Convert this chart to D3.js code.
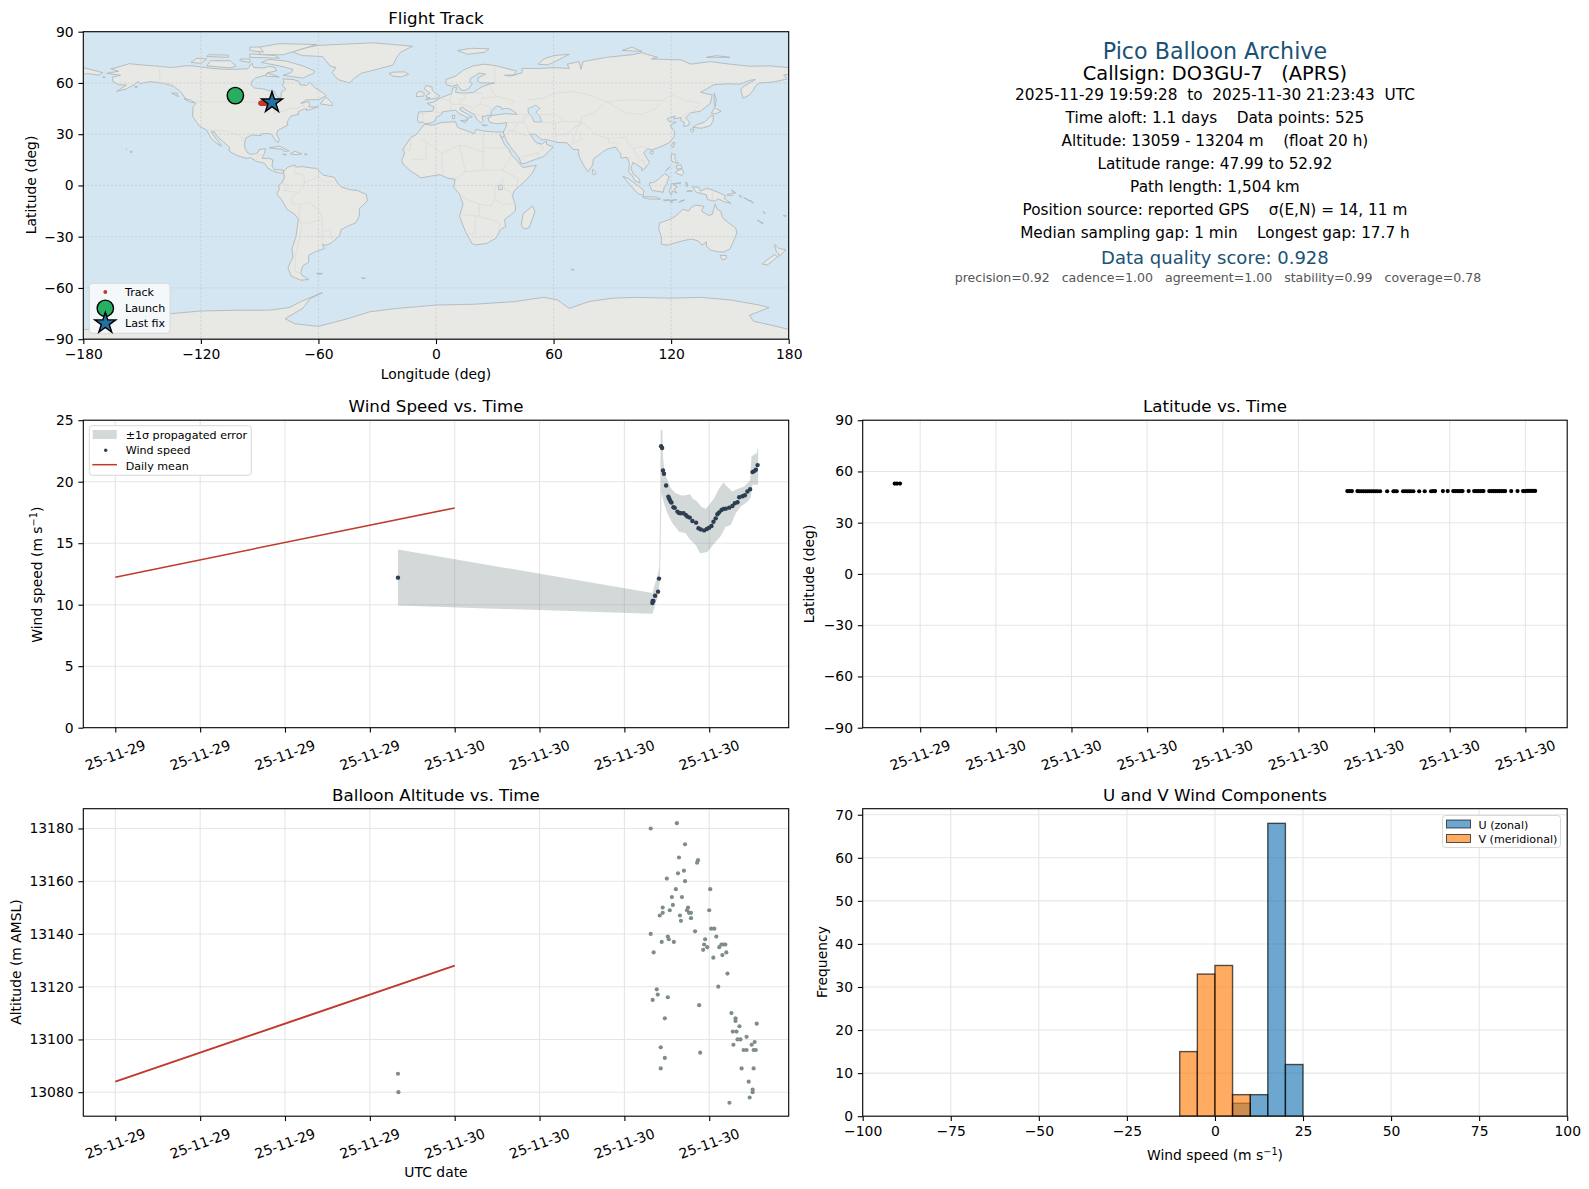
<!DOCTYPE html>
<html>
<head>
<meta charset="utf-8">
<title>Pico Balloon Archive</title>
<script src="https://cdnjs.cloudflare.com/ajax/libs/d3/7.8.5/d3.min.js"></script>
<style>
  body { margin: 0; background: #fff; }
  text { font-family: "DejaVu Sans", sans-serif; fill: #000; white-space: pre; }
</style>
</head>
<body>
<div id="chart"></div>
<script>
// ---- data ----
// all hours below are counted from 2025-11-29 00:00 UTC

// coastlines, [lon, lat]
var landPolygons = [
  // north america
  [[-168,65.6],[-164,66.5],[-162,66.8],[-166,68.4],[-163,69],[-156.5,71.3],[-150,70.5],[-141,69.7],[-135,69],[-128,70],[-124,70],[-118,69],[-114,68.5],[-108,68],[-102,68],[-96,68.3],[-94,71.5],[-93,69],[-88,68.8],[-85,69.7],[-82,69],[-81.5,67],[-86,66],[-87,64.5],[-92,63],[-94,61],[-94.5,59],[-92.5,57],[-88,56.5],[-85,55.3],[-82.3,55],[-82,53],[-80,51.3],[-79,51.6],[-79,54.5],[-76.7,56.5],[-78.5,58.7],[-77.5,60],[-78,62.4],[-73,62],[-70,61],[-69.5,59],[-66,58.5],[-64.5,60.3],[-61.5,57],[-58,54.5],[-56,52.5],[-60,50.2],[-66,50.2],[-69,48],[-65,49.2],[-64.5,47.5],[-65,46],[-61,45.8],[-60,46.3],[-63.5,44.6],[-66,43.8],[-66,45],[-69,44],[-70.5,43],[-70,41.7],[-74,40.6],[-75.5,38],[-76,36.8],[-75.6,35.3],[-78,33.9],[-81,32],[-81.3,30],[-80,26.8],[-80.5,25.2],[-81.8,26],[-82.8,28],[-84,30],[-86,30.4],[-89.5,30.2],[-89.3,29.2],[-91,29.3],[-94,29.6],[-97.2,27.7],[-97.7,24],[-97.5,21.8],[-96,19],[-94.5,18.2],[-92,18.6],[-90.7,19.5],[-90.3,21],[-87,21.5],[-87.5,19],[-88.2,17.5],[-88.7,15.8],[-85,15.9],[-83.3,15],[-83.7,11.5],[-82.5,9.2],[-80,9.2],[-77.4,8.7],[-78,7.3],[-80,7.3],[-83,8.3],[-85.7,10],[-87.5,13],[-91.5,14],[-94.5,16.2],[-97,15.9],[-101.5,17.5],[-105.5,20],[-105.5,22.5],[-108.5,25.5],[-112,29],[-113,31.3],[-114.7,31.5],[-113,28.5],[-110,24],[-109.5,23],[-112,24.7],[-115,28],[-117.1,32.5],[-120.5,34.5],[-122.5,37.5],[-124.2,40.3],[-124,46],[-122.5,48.2],[-124.5,49],[-128,51],[-130,54.5],[-134,58],[-139,59.8],[-146,60.8],[-151,59.5],[-152,61],[-154,59],[-158,56.5],[-163,55],[-158,58.8],[-162,59],[-165,61],[-165,63.5],[-161,64.5]],
  // south america
  [[-77.4,8.7],[-75.5,10.8],[-72,12],[-71.5,10.8],[-68,11],[-64,10.3],[-61,10],[-57.5,6],[-52,4.8],[-50,1],[-48,-1],[-44,-2.5],[-40,-3],[-35.5,-5.3],[-35,-9],[-39,-13.5],[-39.2,-18],[-41,-22],[-45,-23.7],[-48.5,-26],[-49,-29],[-53,-33.5],[-56,-35],[-58,-34.5],[-57,-37],[-62,-39],[-65,-41],[-65,-45],[-68,-47],[-69,-51],[-68.5,-52.5],[-65,-55],[-69,-55.5],[-74,-53],[-75.5,-48],[-73,-42],[-73.5,-37],[-71.5,-30],[-70.2,-20],[-72,-17],[-76,-14],[-79,-8],[-81.3,-5],[-80,-2.5],[-80.3,0],[-78.8,1.5],[-77.5,4],[-77.5,7],[-78,7.3]],
  // africa
  [[-6,35.8],[-2,35.2],[3,36.9],[10,37.3],[11,34],[15,32.3],[19.5,30.3],[20.5,32.8],[25,31.7],[31,31.3],[34.3,31.2],[34.9,29.5],[34,27.8],[33,29],[32.5,29.9],[35,24],[37.2,21],[38.5,18],[41,15],[43.3,11.7],[44.5,10.5],[51.2,11.8],[49,7],[45,2],[40,-3],[39,-6.5],[40.5,-11],[40.5,-15],[35,-20],[35.5,-24],[32.8,-26],[30.5,-31],[25.7,-34],[20,-34.8],[18.4,-34],[15,-27],[12,-18],[13.8,-11],[12,-5],[9,-1],[9.8,3.5],[6,4.3],[2,6.3],[-4,5.2],[-7.6,4.4],[-13,8.5],[-16.8,12.5],[-17.5,14.7],[-16,19],[-17,21],[-13,27.8],[-9.8,30]],
  // eurasia
  [[-9,37],[-9.5,38.7],[-8.9,43],[-1.8,43.4],[-1,46],[-4.5,48],[-1.5,48.7],[2,51],[4,52],[8,53.7],[8.5,57],[10.5,57.5],[10,54.5],[14,54],[19,54.4],[21,56],[24,58],[28,59.6],[30,60],[23,60],[21.3,61],[21.5,63],[25.3,65.2],[22,65.8],[17.5,62.5],[17.2,60.6],[18.5,59.5],[16.5,56.5],[14.3,55.5],[12.5,56.2],[11,59],[8,58],[5.3,59],[5,62],[10,64],[14,67.5],[19,70],[25,71],[31,70],[41,67],[40,64.7],[35,64.5],[38,64],[44,66],[44,68.5],[54,68.5],[60,69],[68,68.5],[67,71],[73,72.5],[74,68],[75,72.5],[80,73.5],[87,75],[100,76.5],[105,77.7],[113,75],[110,74],[125,73.5],[130,71],[140,72.5],[150,71],[160,69.8],[170,70],[180,69],[180,65],[177.5,64.7],[179,62.3],[172,60.5],[165,60],[163,58],[162,56],[160,53],[156.7,51],[155.5,56],[157,58],[163,62],[160,61.5],[155,59.3],[149,59.5],[142,59],[135,54.5],[141,53],[140,48],[135,43.5],[130,42.5],[127.5,39.7],[129.3,37],[129,35.2],[126.3,34.5],[126.7,37],[125,38],[125,39.8],[121.3,39],[122,40.7],[118,39],[119,37.3],[122.5,37],[119.5,35],[121.8,31.5],[121.5,28.5],[119,25],[114,22.3],[110,20.8],[108,21.5],[106,19],[109,13.5],[107,10.5],[105,8.7],[105,10.3],[102,12.5],[100.5,13.5],[99.5,10],[100.5,7],[103.5,4],[104.2,1.4],[101.5,2.8],[100,6],[98.3,8],[98.7,13],[97.5,16.5],[94.5,16],[94.3,18.5],[91.5,22.5],[89,21.8],[87,21],[85,19.5],[80.3,15.5],[80,12],[77.5,8],[76,10.5],[73,17],[72.7,21],[70,21],[69,22.5],[66.7,25],[61.5,25.2],[57,26.8],[54,26.7],[50.5,30],[48,30],[50,26.5],[51.5,25],[54,24.1],[56.3,26],[56.5,24],[59.8,22.5],[55,17],[52,15.8],[45,12.8],[43.3,12.8],[42.5,16],[39,21],[36,26],[34.9,29.5],[34.3,31.2],[35.8,34.5],[36,36.8],[32,36.1],[30,36.3],[27.3,37],[26.5,39.5],[29,41],[35,42],[41.5,41.6],[39,44],[37,45],[35,45],[33.5,44.5],[33,46],[30.8,46.5],[28,43],[28.5,41.3],[26,40.8],[23.5,40.3],[24,38],[22.8,36.6],[21,38.5],[19.5,41.5],[15,44.5],[13.7,45.7],[12.3,45.3],[12.5,44],[16,41.8],[18.5,40],[16.5,39.8],[16,38],[15.7,40],[12,42],[10,44],[7,43.7],[3.2,43],[3,41.8],[0,39.7],[-0.5,38],[-2,36.8],[-5.5,36],[-6.5,37]],
  // chukotka, past the date line
  [[-180,69],[-175,67.5],[-170,66],[-172,64.5],[-178,65.5],[-180,65]],
  // australia, tasmania, new zealand
  [[114,-22],[113.7,-26],[115,-30],[115,-34.3],[118,-35],[124,-33],[129,-31.6],[131,-31.5],[134,-32.6],[135.7,-35],[138,-33],[138,-35.6],[140,-37.8],[143.5,-38.8],[146.5,-39],[150,-37.3],[151.5,-33.5],[153.5,-28],[153,-25],[149.5,-22],[146.3,-19],[145.3,-15],[143.5,-14],[142.5,-10.8],[141.7,-14],[141,-17],[139,-17.5],[135.5,-15],[136.8,-12.2],[132.5,-11.5],[130,-13],[129,-15],[126,-14],[122.2,-18],[119,-20]],
  [[145,-41],[148.3,-41],[148,-43],[146,-43.5]],
  [[172.7,-34.5],[175,-36.8],[178.5,-37.7],[177,-39.5],[175,-41.5],[174.8,-39.8],[173.8,-39]],
  [[172.7,-40.5],[174.3,-41.7],[171,-45],[169,-46.6],[166.5,-46],[169,-43.5]],
  // greenland and arctic islands
  [[-73,78],[-68,76],[-58,75.5],[-54,70],[-51,69],[-53,66],[-50,62],[-44,60],[-42,62.5],[-38,65.7],[-30,68],[-22,70.5],[-20,75],[-18,78],[-12,81.5],[-32,83.5],[-60,82],[-65,81],[-73,78.5]],
  [[-62,66],[-68,62.8],[-78,64.5],[-74,66],[-73,68],[-80,70],[-89,72],[-85,73.8],[-76,72.7],[-68,70],[-62,67]],
  [[-117,70],[-105,68.8],[-102,70],[-105,73],[-115,73]],
  [[-125,72],[-120,71.5],[-117,74],[-122,74.5]],
  [[-90,76.5],[-78,76.5],[-61,82.5],[-80,83],[-90,81]],
  [[-95,75],[-80,74.5],[-82,76],[-95,77]],
  [[-117,75.5],[-106,75],[-106,76.3],[-116,76.5]],
  [[-95,79],[-88,78],[-90,81],[-95,81]],
  [[-100,73],[-95,72],[-95,74],[-100,74]],
  [[-87,64],[-80,63.5],[-86,65.8]],
  [[-59,47.7],[-53,46.7],[-52.8,48],[-56,51.6],[-57.5,50]],
  [[-24,65.5],[-22,64],[-18,63.5],[-14,65],[-16,66.5],[-22,66.3]],
  [[11,79],[16,76.8],[25,78],[27,80],[18,80.3]],
  [[52,71],[57,70.6],[60,72],[68,76.8],[60,76],[55,74]],
  [[95,79],[105,78.5],[100,81]],
  [[138,75],[150,75],[143,76]],
  // caribbean
  [[-85,22],[-80,23],[-75,20.2],[-77.7,19.9],[-78,21]],
  [[-74.4,18.5],[-72,20],[-68.5,18.5],[-71,18]],
  [[-78.3,18.3],[-76.3,18.1],[-77,17.8]],
  [[-67.2,18.4],[-65.7,18.3],[-66.5,18]],
  // europe islands
  [[-5.5,50.2],[1.3,51.2],[1.7,52.7],[0,53.5],[-2,55.8],[-2,57.6],[-5,58.6],[-6,56.5],[-3,54],[-4.7,53],[-5,51.7],[-3,51.3]],
  [[-10,52],[-6.2,52.3],[-6,54],[-8,55.2],[-10,54]],
  [[12.5,38],[15.5,38.2],[15,36.7]],
  [[8.3,41],[9.7,41],[9.5,39.2],[8.5,39]],
  [[23.5,35.5],[26.2,35.2],[24.7,34.9]],
  // asia islands
  [[142,54],[143,50],[142.5,46],[142,48],[142,51]],
  [[131,34],[135.5,33.5],[140,35],[141.5,38],[141.5,41],[140,40.5],[137,37],[133,35.5]],
  [[140.5,42],[143,42],[145.5,43.5],[142,45.5]],
  [[130,33],[131.7,33],[131,31],[130,32]],
  [[120.2,23],[121,22],[122,25],[121,25.2]],
  [[109,19],[110.5,18.3],[111,20],[109.5,20]],
  [[80,9.5],[81.8,7.5],[80.5,6],[79.8,7.5]],
  [[120.3,18.5],[122,18.3],[122,15],[124,12.8],[120.5,14],[120,16]],
  [[122,7.5],[125.5,5.8],[126.5,7.5],[125.5,9.8],[123,8.5]],
  [[117.2,8.4],[119.5,11],[119,10.5]],
  [[122.5,11.5],[125,12],[125.5,10],[123,9.5]],
  [[95.3,5.5],[98,4],[103.5,-0.5],[106,-3],[105.8,-5.8],[103,-4.8],[100.5,-1.5],[97,3]],
  [[105.5,-6.5],[108.5,-6.6],[112.5,-6.8],[114.5,-8],[110,-8],[106,-7.4]],
  [[109,1.5],[111,1.7],[113,3.2],[116.8,7],[119,5],[117.8,2],[118,1],[116.5,-1],[116,-4],[113,-3.4],[110.2,-2.9],[109,0]],
  [[120,1],[125,1.5],[121,0.5],[123.2,-0.9],[121.5,-1.9],[122.8,-4.5],[120.5,-3],[120.3,-5.5],[119.5,-5],[119,-3],[120,-1]],
  [[127.5,2],[128.5,1],[128,-0.8]],
  [[129,-3],[130.8,-3.3],[128,-3.6]],
  [[116,-8.5],[119,-8.4],[117,-9]],
  [[119,-8.7],[123,-8.3],[120,-9]],
  [[119.5,-9.7],[120.8,-10],[120.5,-9.4]],
  [[124,-10],[127,-8.4],[125,-9]],
  [[131,-0.8],[134,-1],[135,-3.3],[138,-1.7],[141,-2.6],[145,-4.5],[147.8,-6],[147,-7.5],[150.5,-10.5],[147,-9.5],[144,-7.8],[142.5,-9.2],[138.5,-8.3],[138,-5.5],[133,-4],[132,-2.8]],
  [[148.5,-5.5],[152.3,-4.2],[151,-6]],
  [[150.8,-2.8],[153,-4.5],[152,-3.5]],
  [[155,-5.5],[156,-7],[154.8,-6.3]],
  [[157,-7],[160,-9],[159,-8.4]],
  [[160,-8.8],[162,-10.5],[161,-9]],
  [[164,-20.2],[167,-22.3],[166,-22]],
  [[167,-15.2],[168,-16.5],[167.3,-16.2]],
  [[177.3,-17.5],[178.7,-17.8],[178,-18.2]],
  [[49.3,-12],[50.5,-15.5],[47.5,-24.8],[45,-25.5],[43.5,-23],[44.5,-16.5]],
  [[69,-49],[70.5,-49.5],[69.5,-49.6]],
  // small islands west of the americas
  [[-156,20.2],[-155,19.7],[-155.6,19]],
  [[-158.2,21.5],[-157.7,21.4],[-158,21.3]],
  [[-61,-51.5],[-58,-51.5],[-59,-52.3]],
  [[-38,-54],[-36,-54.3],[-37,-54.5]],
  [[-170,63.6],[-168.7,63.3],[-170,63.2]],
  [[-135,54],[-132,54],[-132,53],[-131.5,52]],
  [[-128.5,50.7],[-125,50],[-123.5,48.5],[-125.5,48.8]],
  [[-153.8,57.8],[-152.3,58],[-153,57]],
  // antarctica
  [[-180,-84.3],[-165,-84],[-150,-80],[-140,-75.5],[-120,-73.5],[-100,-73],[-85,-73],[-75,-71.5],[-68,-67.5],[-58,-62.8],[-64,-66],[-68,-72],[-77,-78],[-72,-81],[-60,-82.5],[-45,-78],[-34,-74],[-20,-72],[-10,-71],[0,-70],[20,-69.5],[40,-68],[55,-65.5],[62,-67],[68,-72],[78,-68],[90,-66],[102,-65.5],[120,-66],[135,-65.5],[150,-67],[165,-70],[170,-71.5],[160,-76],[162,-79.5],[172,-82],[180,-84.3],[180,-90],[-180,-90]]
];
var innerSeas = [
  // caspian
  [[47,45],[51,47],[53,45],[51,43],[53,40.5],[54,37],[50,37.3],[49,40],[47,43]],
  // lake victoria
  [[31.8,0],[33.9,0.3],[33.8,-2.5],[32,-2.5]]
];
var borderLines = [
  [[-123,49],[-95,49],[-89,48],[-83,46],[-82.5,42],[-79,43],[-75,45],[-71,45],[-67.5,47],[-67,45]],
  [[-141,69.7],[-141,60.3],[-135,59.5],[-130,55]],
  [[-117,32.5],[-106.5,31.8],[-101,29.5],[-97.2,25.9]],
  [[-92,14.5],[-91,17.8],[-89,17.9]],
  [[-72,12],[-72.5,7.5],[-67.5,6],[-67,1.5],[-70,-4]],
  [[-70,-4],[-74,-7.5],[-73,-11],[-69,-11],[-65,-10],[-60,-14],[-58,-20]],
  [[-60,5],[-60,8.5]],
  [[-67,1.5],[-60,5],[-57,2],[-52,2.5]],
  [[-70,-4],[-78,-3],[-75,0],[-78.8,1.5]],
  [[-70.2,-18],[-69,-11]],
  [[-69,-22],[-65,-22],[-58,-20],[-58,-27],[-54,-26],[-53,-33.5]],
  [[-70,-18],[-68.5,-24],[-70,-33],[-71.5,-40],[-72,-50],[-69,-52]],
  [[-58,-27],[-58,-34]],
  [[-8.7,27.7],[-4,25],[3,19],[12,23.5],[15,23],[24,19.5],[24,31]],
  [[-17,21],[-13,21],[-13,27.8]],
  [[-12,15],[-5,15.5],[-5,25]],
  [[3,19],[3,12],[4,6.5]],
  [[12,23.5],[14,13],[15,8],[9.8,4]],
  [[15,8],[24,9],[24,19.5]],
  [[24,22],[37,22]],
  [[24,9],[34,9],[37,15],[38.5,18]],
  [[34,9],[42,4],[41,-1.7]],
  [[34,4],[30,-1],[30,-8],[28,-12],[22,-11],[12,-6]],
  [[34,4],[34,-1],[39.2,-4.7]],
  [[30,-8],[34,-11],[40.5,-11]],
  [[22,-11],[22,-18],[13,-17],[11.8,-17.3]],
  [[20,-18],[20,-28],[16.5,-28.6]],
  [[22,-18],[33,-22],[31.5,-26]],
  [[-1.8,43.4],[3.2,42.5]],
  [[-9,42],[-6.5,42],[-7,37.2]],
  [[2,51],[6,49.5],[8,47.6],[7,43.7]],
  [[8,53.7],[7,50],[8,47.6]],
  [[14,54],[15,51],[12,50],[13,47.5],[8,47.6]],
  [[13,47.5],[16.5,46.5],[19,45],[22.5,48],[24,51],[23.5,54],[19,54.4]],
  [[24,51],[31,52],[40,49.5],[38,47]],
  [[28,59.6],[28,56],[31,52]],
  [[30,60],[30,69.5]],
  [[22.5,48],[28,45.5],[28,43]],
  [[26,41],[23,41],[19.5,42]],
  [[26,41.7],[28,41.9]],
  [[44.5,39.5],[44.5,37],[46,35],[48,30]],
  [[36,36.8],[42,37],[44.5,37]],
  [[44.5,39.5],[48,41.5]],
  [[34.5,29.5],[39,32],[46.5,29]],
  [[36,32.3],[39,32],[42,37]],
  [[48,41.5],[41.5,41.6]],
  [[61,36.5],[61,31],[61.5,25.2]],
  [[53.5,37],[61,36.5],[66,37.5],[74.5,37.3],[71,34],[66.5,30],[61,29.5]],
  [[51,24.5],[55,22],[52,19],[52.5,16]],
  [[43.3,16.5],[52,19]],
  [[71,34],[74.5,37],[79,33],[81,30],[88,27.5],[92,28],[97,28],[98,24],[101,21.5],[105,23],[108,21.5]],
  [[74.5,37],[72,33],[70,27.5],[70,24]],
  [[74,32],[74,27],[70,24.5]],
  [[88,27.5],[88,25],[92,25],[93,22],[92,21]],
  [[101,21.5],[102,18],[105,15],[107,14]],
  [[99,17],[98.7,13]],
  [[102,12.5],[105,15],[107,11]],
  [[50,42],[52,41.5],[61,41.5],[66,37.5]],
  [[47,50],[55,51],[61,54],[70,55],[77,53.5],[87,49],[97,50],[107,49.8],[116,49.8],[120,53],[127,50],[135,48],[131,43]],
  [[87,49],[80,42],[74,40],[74.5,37]],
  [[87,49],[97,42.5],[105,41.5],[112,45],[116,49.8]],
  [[125,40],[128,42],[130,42.5]],
  [[126.7,38],[128.4,38.6]],
  [[141,-2.6],[141,-9]]
];
var gridLonTicks = [-180, -120, -60, 0, 60, 120, 180];
var gridLatTicks = [-90, -60, -30, 0, 30, 60, 90];

var trackFixes = [[-89.4,48.2],[-89,48.1],[-88.6,48.1],[-88.2,48.1],[-87.8,48.2],[-87.4,48.2],[-87,48.3],[-86.4,48.3],[-85.6,48.4],[-84.8,48.4],[-83.8,48.5]];
var launchFix = [-102.4, 52.6];
var lastFix = [-83.7, 48.6];

// wind speed, [hour, m/s]
var windFixes = [[19.99,12.2],[37.98,10.13],[38,10.3],[38.05,10.3],[38.17,10.73],[38.38,11.06],[38.45,12.12],[38.6,22.88],[38.67,22.74],[38.73,20.92],[38.8,20.65],[38.95,19.69],[39.11,18.79],[39.16,18.66],[39.21,18.52],[39.28,18.38],[39.33,18.3],[39.47,17.92],[39.56,17.87],[39.75,17.57],[39.87,17.46],[39.99,17.43],[40.18,17.43],[40.34,17.3],[40.46,17.16],[40.62,17.08],[40.81,16.81],[41.07,16.67],[41.24,16.21],[41.4,16.12],[41.64,16.04],[41.83,16.15],[41.99,16.26],[42.16,16.4],[42.3,16.75],[42.46,17.02],[42.58,17.35],[42.7,17.51],[42.87,17.7],[43.01,17.79],[43.17,17.81],[43.41,17.89],[43.64,18.03],[43.81,18.25],[44,18.33],[44.12,18.74],[44.35,18.82],[44.52,18.9],[44.7,19.2],[44.89,19.39],[45.06,20.78],[45.18,20.86],[45.3,20.97],[45.42,21.35]];
// outline of the error band: upper edge left to right, then lower edge back
var windBandEdge = [[19.99,14.48],[37.98,10.95],[38.17,11.71],[38.38,12.53],[38.47,13.07],[38.52,17.7],[38.57,24.29],[38.69,24.1],[38.73,22.06],[38.8,21.24],[38.95,20.43],[39.28,19.47],[39.63,19.07],[40.11,18.85],[40.65,18.98],[40.81,18.66],[41.17,18.38],[41.47,17.92],[41.76,17.81],[41.99,18.11],[42.35,18.66],[42.7,19.47],[43.01,19.94],[43.29,19.56],[43.64,19.2],[43.88,19.34],[44.47,19.61],[44.89,20.1],[44.99,22.06],[45.36,22.33],[45.46,22.88],[45.46,19.75],[45.06,19.75],[44.94,18.74],[44.7,18.38],[44.23,17.98],[43.88,17.43],[43.52,16.48],[43.17,16.34],[42.82,15.58],[42.35,14.98],[41.88,14.3],[41.36,14.16],[41.05,14.84],[40.58,15.39],[40.34,15.8],[39.87,15.93],[39.4,16.62],[39.04,17.43],[38.8,18.25],[38.62,19.07],[38.52,11.99],[38.38,10.62],[38.22,10.21],[38.1,9.67],[37.98,9.26],[19.99,9.93]];
var windDailyMean = [[0,12.24],[24,17.87]];

// latitude, [hour, deg]
var latFixes = [[19.99,52.92],[20.08,52.9],[20.2,52.88],[37.94,48.5],[38.03,48.5],[38.12,48.5],[38.34,48.5],[38.42,48.4],[38.5,48.4],[38.58,48.4],[38.66,48.4],[38.74,48.4],[38.82,48.4],[38.9,48.4],[38.98,48.4],[39.06,48.4],[39.14,48.4],[39.24,48.4],[39.52,48.4],[39.77,48.4],[39.83,48.4],[39.9,48.4],[40.15,48.4],[40.23,48.4],[40.31,48.4],[40.39,48.4],[40.47,48.4],[40.56,48.4],[40.79,48.4],[41.01,48.4],[41.26,48.4],[41.34,48.5],[41.42,48.5],[41.73,48.5],[41.92,48.5],[42.14,48.5],[42.22,48.5],[42.3,48.5],[42.38,48.5],[42.46,48.5],[42.51,48.5],[42.75,48.5],[42.97,48.5],[43.05,48.5],[43.13,48.5],[43.21,48.5],[43.29,48.5],[43.34,48.5],[43.57,48.5],[43.65,48.5],[43.73,48.5],[43.81,48.5],[43.89,48.5],[43.97,48.5],[44.05,48.5],[44.13,48.5],[44.2,48.5],[44.44,48.5],[44.69,48.5],[44.91,48.5],[44.99,48.5],[45.07,48.6],[45.15,48.6],[45.23,48.6],[45.31,48.6],[45.39,48.6]];

// altitude, [hour, m]
var altFixes = [[19.99,13087],[20.02,13080],[37.86,13180],[39.71,13182],[40.29,13174],[39.86,13169],[41.21,13168],[41.14,13167],[39.79,13163],[40.21,13164],[39,13161],[40.29,13160],[39.64,13157],[42.07,13157],[39.36,13154],[40.07,13154],[39.43,13151],[38.71,13150],[40.5,13150],[39.21,13149],[40.43,13149],[42,13149],[38.71,13148],[40.57,13148],[40.71,13148],[38.5,13147],[39.93,13147],[40.71,13146],[40,13145],[41,13141],[42.14,13142],[42.36,13142],[37.86,13140],[42.5,13139],[39.07,13139],[39.14,13138],[41.71,13138],[38.64,13137],[39.5,13137],[41.64,13136],[42.86,13136],[43,13136],[43.14,13136],[41.86,13135],[42.71,13135],[41.57,13134],[38.07,13133],[43.21,13133],[42.93,13132],[42.29,13131],[43.29,13125],[42.64,13120],[38.29,13119],[38.36,13117],[39.07,13116],[38,13115],[41.29,13113],[43.57,13110],[43.86,13108],[43.86,13107],[38.86,13108],[45.36,13106],[44.14,13105],[43.67,13103],[43.93,13103],[44.64,13101],[44,13100],[44.21,13100],[45.21,13099],[43.71,13098],[45,13098],[38.57,13097],[44.43,13096],[44.64,13096],[45.14,13096],[45.29,13096],[41.36,13095],[38.86,13093],[38.57,13089],[44.29,13089],[45.14,13089],[44.79,13084],[45.07,13081],[45.07,13080],[44.86,13078],[43.43,13076]];
var altDailyMean = [[0,13084],[24,13128]];

// histogram bins, 5 m/s wide
var binStarts = [-10, -5, 0, 5, 10, 15, 20];
var uCounts = [0, 0, 0, 3, 5, 68, 12];
var vCounts = [15, 33, 35, 5, 0, 0, 0];

var windTickHours = [0, 6, 12, 18, 24, 30, 36, 42];
var latTickHours = [21, 24, 27, 30, 33, 36, 39, 42, 45];
var altTicks = [13080, 13100, 13120, 13140, 13160, 13180];
var histCountTicks = [0, 10, 20, 30, 40, 50, 60, 70];
var histSpeedTicks = [-100, -75, -50, -25, 0, 25, 50, 75, 100];

var summaryLines = [
  "Pico Balloon Archive",
  "Callsign: DO3GU-7   (APRS)",
  "2025-11-29 19:59:28  to  2025-11-30 21:23:43  UTC",
  "Time aloft: 1.1 days    Data points: 525",
  "Altitude: 13059 - 13204 m    (float 20 h)",
  "Latitude range: 47.99 to 52.92",
  "Path length: 1,504 km",
  "Position source: reported GPS    σ(E,N) = 14, 11 m",
  "Median sampling gap: 1 min    Longest gap: 17.7 h",
  "Data quality score: 0.928",
  "precision=0.92   cadence=1.00   agreement=1.00   stability=0.99   coverage=0.78"
];

// ---- layout ----
var svgWidth = 1589;
var svgHeight = 1189;
var leftX = [83.3, 788.7];
var rightX = [862.7, 1567.2];
var topY = [31.7, 339.2];
var midY = [420.2, 727.7];
var lowY = [808.7, 1116.2];
var t0 = Date.UTC(2025, 10, 29);
var at = h => new Date(t0 + h * 3600e3);
var gridColor = "#e4e6e6";
var summaryY = [50.5, 73, 94.5, 117.5, 140.5, 163.5, 186.5, 209.5, 233, 257.5, 277.5];
var summarySize = [22.2, 19.4, 15.3, 15.3, 15.3, 15.3, 15.3, 15.3, 15.3, 18, 12.55];
var summaryColor = ["#1a5276", "#000", "#000", "#000", "#000", "#000", "#000", "#000", "#000", "#1a5276", "#555"];
var summaryShift = [0, 0, 0, 0, 0, 0, 0, 0, 0, 0, 3];

var svg = d3.select("#chart").append("svg")
  .attr("width", svgWidth)
  .attr("height", svgHeight);

// one panel: grid, axes and frame are added by the panel functions
function makePanel(name, xr, yr) {
  var g = svg.append("g").attr("class", name);
  var clipId = "clip-" + name;
  svg.append("clipPath").attr("id", clipId).append("rect")
    .attr("x", xr[0]).attr("y", yr[0]).attr("width", xr[1] - xr[0]).attr("height", yr[1] - yr[0]);
  return { g: g, marks: g.append("g").attr("clip-path", "url(#" + clipId + ")"), xr: xr, yr: yr };
}

function addGrid(p, x, y, xVals, yVals, color, dash, width) {
  p.marks.selectAll(null).data(xVals).enter().append("line")
    .attr("x1", x).attr("x2", x).attr("y1", p.yr[0]).attr("y2", p.yr[1])
    .attr("stroke", color).attr("stroke-width", width).attr("stroke-dasharray", dash);
  p.marks.selectAll(null).data(yVals).enter().append("line")
    .attr("y1", y).attr("y2", y).attr("x1", p.xr[0]).attr("x2", p.xr[1])
    .attr("stroke", color).attr("stroke-width", width).attr("stroke-dasharray", dash);
}

function addAxes(p, xAxis, yAxis, rotate) {
  var gx = p.g.append("g").attr("transform", `translate(0,${p.yr[1]})`).call(xAxis);
  var gy = p.g.append("g").attr("transform", `translate(${p.xr[0]},0)`).call(yAxis);
  [gx, gy].forEach(function(a) {
    a.select(".domain").remove();
    a.selectAll(".tick line").attr("stroke", "#000").attr("stroke-width", 1.1);
    a.selectAll("text").attr("font-size", 13.9).attr("font-family", "DejaVu Sans");
  });
  if (rotate) {
    gx.selectAll(".tick text")
      .attr("text-anchor", "middle")
      .attr("dy", null)
      .attr("y", 0)
      .attr("dominant-baseline", "central")
      .attr("transform", "translate(-0.5,27.3) rotate(-20)");
  }
  p.g.append("rect")
    .attr("x", p.xr[0]).attr("y", p.yr[0]).attr("width", p.xr[1] - p.xr[0]).attr("height", p.yr[1] - p.yr[0])
    .attr("fill", "none").attr("stroke", "#000").attr("stroke-width", 1.1);
}

function addTitle(p, text) {
  p.g.append("text").attr("x", (p.xr[0] + p.xr[1]) / 2).attr("y", p.yr[0] - 8)
    .attr("text-anchor", "middle").attr("font-size", 16.7).text(text);
}

// labels that may carry the m s^-1 superscript
function addLabel(p, text, x, y, rot, sup) {
  var t = p.g.append("text")
    .attr("transform", `translate(${x},${y})` + (rot ? " rotate(-90)" : ""))
    .attr("text-anchor", "middle").attr("font-size", 13.9).text(text);
  if (sup) {
    t.append("tspan").attr("dy", -5).attr("font-size", 9.7).text("−1");
    t.append("tspan").attr("dy", 5).text(")");
  }
}

function xBottomAxis(x, vals, fmt) {
  return d3.axisBottom(x).tickValues(vals).tickFormat(fmt).tickSize(4.9).tickPadding(4.8);
}
function yLeftAxis(y, vals) {
  return d3.axisLeft(y).tickValues(vals).tickFormat(d3.format("d")).tickSize(4.9).tickPadding(4.8);
}

// ---- flight track map ----
var mapPanel = makePanel("map", leftX, topY);
var lonScale = d3.scaleLinear().domain([-180, 180]).range(leftX);
var latScale = d3.scaleLinear().domain([-90, 90]).range([topY[1], topY[0]]);
var geoLine = d3.line().x(d => lonScale(d[0])).y(d => latScale(d[1]));

mapPanel.marks.append("rect")
  .attr("x", leftX[0]).attr("y", topY[0]).attr("width", leftX[1] - leftX[0]).attr("height", topY[1] - topY[0])
  .attr("fill", "#d4e6f1");
mapPanel.marks.selectAll("path.land").data(landPolygons).enter().append("path")
  .attr("class", "land")
  .attr("d", d => geoLine(d) + "Z")
  .attr("fill", "#e8e8e4").attr("stroke", "#a9b2b6").attr("stroke-width", 0.8).attr("stroke-linejoin", "round");
mapPanel.marks.selectAll("path.sea").data(innerSeas).enter().append("path")
  .attr("class", "sea")
  .attr("d", d => geoLine(d) + "Z")
  .attr("fill", "#d4e6f1").attr("stroke", "#a9b2b6").attr("stroke-width", 0.7);
mapPanel.marks.selectAll("path.border").data(borderLines).enter().append("path")
  .attr("class", "border")
  .attr("d", geoLine)
  .attr("fill", "none").attr("stroke", "#dadad6").attr("stroke-width", 0.7);
addGrid(mapPanel, lonScale, latScale, gridLonTicks, gridLatTicks, "#bcc4c8", "2,2", 0.6);

mapPanel.marks.selectAll("circle.track").data(trackFixes).enter().append("circle")
  .attr("class", "track")
  .attr("cx", d => lonScale(d[0])).attr("cy", d => latScale(d[1]))
  .attr("r", 2.7).attr("fill", "#c0392b");

function starPath(r) {
  return d3.lineRadial().angle((d, i) => i * Math.PI / 5).radius((d, i) => i % 2 ? r * 0.38 : r)(d3.range(10)) + "Z";
}
function drawLaunch(g, x, y) {
  g.append("circle").attr("cx", x).attr("cy", y).attr("r", 8.2)
    .attr("fill", "#27ae60").attr("stroke", "#000").attr("stroke-width", 1.4);
}
function drawStar(g, x, y) {
  g.append("path").attr("d", starPath(11)).attr("transform", `translate(${x},${y})`)
    .attr("fill", "#2471a3").attr("stroke", "#000").attr("stroke-width", 1.4);
}
drawLaunch(mapPanel.marks, lonScale(launchFix[0]), latScale(launchFix[1]));
drawStar(mapPanel.marks, lonScale(lastFix[0]), latScale(lastFix[1]));

addAxes(mapPanel,
  xBottomAxis(lonScale, gridLonTicks, d3.format("d")),
  yLeftAxis(latScale, gridLatTicks));
addTitle(mapPanel, "Flight Track");
addLabel(mapPanel, "Longitude (deg)", 436, 379);
addLabel(mapPanel, "Latitude (deg)", 36, 185, true);

function legendBox(p, x, y, w, h, fill) {
  var g = p.g.append("g").attr("transform", `translate(${x},${y})`);
  g.append("rect").attr("width", w).attr("height", h).attr("rx", 3)
    .attr("fill", fill).attr("stroke", "#d8d8d8").attr("stroke-width", 1);
  return g;
}
function legendText(g, text, x, y) {
  g.append("text").attr("x", x).attr("y", y).attr("font-size", 11.1).text(text);
}

var mapLegend = legendBox(mapPanel, 89.3, 283.3, 80.7, 50, "#f4f8fb");
mapLegend.append("circle").attr("cx", 16).attr("cy", 8.7).attr("r", 1.9).attr("fill", "#c0392b");
drawLaunch(mapLegend, 16, 25);
drawStar(mapLegend, 16, 40);
legendText(mapLegend, "Track", 35.7, 12.7);
legendText(mapLegend, "Launch", 35.7, 29);
legendText(mapLegend, "Last fix", 35.7, 43.4);

// ---- wind speed ----
var timeScale = d3.scaleUtc().domain([at(-2.263), at(47.62)]).range(leftX);
var dayFormat = d3.utcFormat("%y-%m-%d");
var windPanel = makePanel("wind", leftX, midY);
var windScale = d3.scaleLinear().domain([0, 25]).range([midY[1], midY[0]]);
var windTicks = [0, 5, 10, 15, 20, 25];
var windDates = windTickHours.map(at);
addGrid(windPanel, timeScale, windScale, windDates, windTicks, gridColor, null, 1.1);

var timeLine = yScale => d3.line().x(d => timeScale(at(d[0]))).y(d => yScale(d[1]));
windPanel.marks.append("path")
  .attr("d", timeLine(windScale)(windBandEdge) + "Z")
  .attr("fill", "#7f8c8d").attr("fill-opacity", 0.34);
windPanel.marks.append("path")
  .attr("d", timeLine(windScale)(windDailyMean))
  .attr("fill", "none").attr("stroke", "#c0392b").attr("stroke-width", 1.5);
windPanel.marks.selectAll("circle").data(windFixes).enter().append("circle")
  .attr("cx", d => timeScale(at(d[0]))).attr("cy", d => windScale(d[1]))
  .attr("r", 2.2).attr("fill", "#2c3e50");

addAxes(windPanel, xBottomAxis(timeScale, windDates, dayFormat), yLeftAxis(windScale, windTicks), true);
addTitle(windPanel, "Wind Speed vs. Time");
addLabel(windPanel, "Wind speed (m s", 42, 574.7, true, true);

var windLegend = legendBox(windPanel, 89.3, 425.7, 162, 49.6, "#fff");
windLegend.append("rect").attr("x", 3.4).attr("y", 4.3).attr("width", 24).attr("height", 9)
  .attr("fill", "#7f8c8d").attr("fill-opacity", 0.34);
windLegend.append("circle").attr("cx", 16.4).attr("cy", 24.6).attr("r", 1.7).attr("fill", "#2c3e50");
windLegend.append("line").attr("x1", 3).attr("x2", 27.7).attr("y1", 39).attr("y2", 39)
  .attr("stroke", "#c0392b").attr("stroke-width", 1.5);
legendText(windLegend, "±1σ propagated error", 36.4, 13.6);
legendText(windLegend, "Wind speed", 36.4, 28.3);
legendText(windLegend, "Daily mean", 36.4, 44.3);

// ---- latitude ----
var latTimeScale = d3.scaleUtc().domain([at(18.72), at(46.66)]).range(rightX);
var latPanel = makePanel("latitude", rightX, midY);
var latTimeY = d3.scaleLinear().domain([-90, 90]).range([midY[1], midY[0]]);
var latDates = latTickHours.map(at);
addGrid(latPanel, latTimeScale, latTimeY, latDates, gridLatTicks, gridColor, null, 1.1);
latPanel.marks.selectAll("circle").data(latFixes).enter().append("circle")
  .attr("cx", d => latTimeScale(at(d[0]))).attr("cy", d => latTimeY(d[1]))
  .attr("r", 2.1).attr("fill", "#000");
addAxes(latPanel, xBottomAxis(latTimeScale, latDates, dayFormat), yLeftAxis(latTimeY, gridLatTicks), true);
addTitle(latPanel, "Latitude vs. Time");
addLabel(latPanel, "Latitude (deg)", 814, 574, true);

// ---- altitude ----
var altPanel = makePanel("altitude", leftX, lowY);
var altScale = d3.scaleLinear().domain([13070.9, 13187.5]).range([lowY[1], lowY[0]]);
addGrid(altPanel, timeScale, altScale, windDates, altTicks, gridColor, null, 1.1);
altPanel.marks.append("path")
  .attr("d", timeLine(altScale)(altDailyMean))
  .attr("fill", "none").attr("stroke", "#c0392b").attr("stroke-width", 2);
altPanel.marks.selectAll("circle").data(altFixes).enter().append("circle")
  .attr("cx", d => timeScale(at(d[0]))).attr("cy", d => altScale(d[1]))
  .attr("r", 2.1).attr("fill", "#7f8c8d");
addAxes(altPanel, xBottomAxis(timeScale, windDates, dayFormat), yLeftAxis(altScale, altTicks), true);
addTitle(altPanel, "Balloon Altitude vs. Time");
addLabel(altPanel, "Altitude (m AMSL)", 21, 962, true);
addLabel(altPanel, "UTC date", 436, 1177);

// ---- u and v histogram ----
var histPanel = makePanel("hist", rightX, lowY);
var speedScale = d3.scaleLinear().domain([-100, 100]).range(rightX);
var countScale = d3.scaleLinear().domain([0, 71.4]).range([lowY[1], lowY[0]]);
addGrid(histPanel, speedScale, countScale, histSpeedTicks, histCountTicks, gridColor, null, 1.1);

function drawBars(counts, color) {
  histPanel.marks.selectAll(null).data(binStarts.filter((d, i) => counts[i] > 0)).enter().append("rect")
    .attr("x", d => speedScale(d))
    .attr("width", d => speedScale(d + 5) - speedScale(d))
    .attr("y", d => countScale(counts[binStarts.indexOf(d)]))
    .attr("height", d => countScale(0) - countScale(counts[binStarts.indexOf(d)]))
    .attr("fill", color).attr("fill-opacity", 0.65)
    .attr("stroke", "#000").attr("stroke-opacity", 0.65).attr("stroke-width", 1.4);
}
drawBars(uCounts, "#1f77b4");
drawBars(vCounts, "#ff7f0e");

addAxes(histPanel, xBottomAxis(speedScale, histSpeedTicks, d3.format("d")), yLeftAxis(countScale, histCountTicks));
addTitle(histPanel, "U and V Wind Components");
addLabel(histPanel, "Frequency", 827, 962, true);
addLabel(histPanel, "Wind speed (m s", 1215, 1160, false, true);

var histLegend = legendBox(histPanel, 1442.5, 815.5, 118, 32, "#fff");
[["#1f77b4", "U (zonal)", 4.5], ["#ff7f0e", "V (meridional)", 19]].forEach(function(d) {
  histLegend.append("rect").attr("x", 4).attr("y", d[2]).attr("width", 24).attr("height", 8)
    .attr("fill", d[0]).attr("fill-opacity", 0.65).attr("stroke", "#000").attr("stroke-opacity", 0.65);
  legendText(histLegend, d[1], 36, d[2] + 8.5);
});

// ---- summary text ----
svg.append("g").selectAll("text").data(summaryLines).enter().append("text")
  .attr("x", (d, i) => (rightX[0] + rightX[1]) / 2 + summaryShift[i])
  .attr("y", (d, i) => summaryY[i])
  .attr("text-anchor", "middle")
  .attr("font-size", (d, i) => summarySize[i])
  .style("fill", (d, i) => summaryColor[i])
  .attr("dominant-baseline", "central")
  .text(d => d);
</script>
</body>
</html>
